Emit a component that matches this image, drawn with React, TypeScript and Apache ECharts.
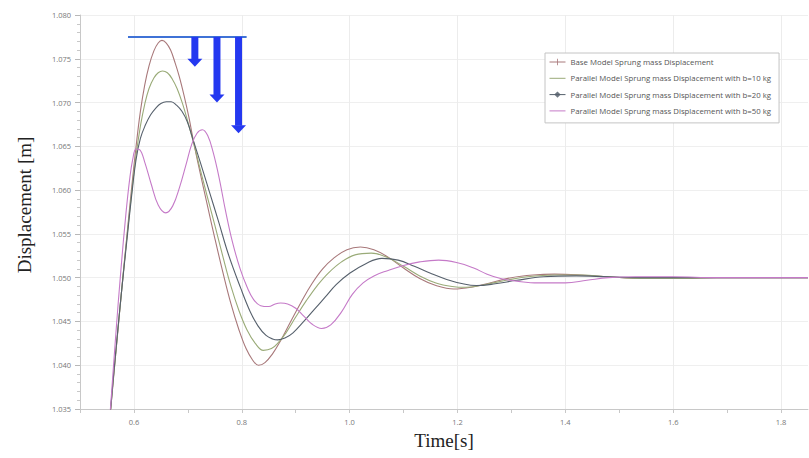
import React, { useEffect, useRef } from 'react';
import * as echarts from 'echarts';

const seriesNames = [
  'Base Model Sprung mass Displacement',
  'Parallel Model Sprung mass Displacement with b=10 kg',
  'Parallel Model Sprung mass Displacement with b=20 kg',
  'Parallel Model Sprung mass Displacement with b=50 kg',
];

const baseModel: [number, number][] = [
  [0.548, 1.028], [0.557, 1.035], [0.567, 1.0418], [0.577, 1.0484], [0.587, 1.0548],
  [0.596, 1.0604], [0.604, 1.065], [0.612, 1.069], [0.62, 1.072], [0.628, 1.0742],
  [0.637, 1.0759], [0.645, 1.0768], [0.652, 1.0771], [0.66, 1.0768], [0.668, 1.076],
  [0.676, 1.0746], [0.684, 1.073], [0.693, 1.0708], [0.702, 1.0683], [0.711, 1.0654],
  [0.722, 1.0622], [0.735, 1.0586], [0.75, 1.0545], [0.765, 1.0506], [0.78, 1.047],
  [0.795, 1.044], [0.808, 1.0419], [0.82, 1.0406], [0.831, 1.04], [0.843, 1.0403],
  [0.857, 1.0413], [0.872, 1.0428], [0.89, 1.0449], [0.91, 1.0472], [0.93, 1.0493],
  [0.95, 1.051], [0.97, 1.0522], [0.995, 1.0532], [1.02, 1.0535], [1.045, 1.0532],
  [1.07, 1.0524], [1.1, 1.0511], [1.13, 1.0499], [1.16, 1.0491], [1.193, 1.0487],
  [1.225, 1.0489], [1.26, 1.0494], [1.3, 1.05], [1.34, 1.0503], [1.38, 1.0504],
  [1.43, 1.0503], [1.48, 1.0501], [1.54, 1.0499], [1.6, 1.0499], [1.68, 1.05],
  [1.76, 1.05], [1.85, 1.05],
];

const parallelB10: [number, number][] = [
  [0.548, 1.028], [0.557, 1.035], [0.567, 1.0418], [0.577, 1.0484], [0.587, 1.0546],
  [0.596, 1.0598], [0.604, 1.064], [0.612, 1.0673], [0.62, 1.0698], [0.628, 1.0716],
  [0.637, 1.0728], [0.645, 1.0734], [0.653, 1.0736], [0.662, 1.0734], [0.671, 1.0727],
  [0.68, 1.0716], [0.69, 1.0699], [0.7, 1.0678], [0.711, 1.0653], [0.722, 1.0626],
  [0.735, 1.0595], [0.75, 1.056], [0.765, 1.0524], [0.78, 1.049], [0.795, 1.0462],
  [0.81, 1.044], [0.825, 1.0425], [0.84, 1.0417], [0.855, 1.0419], [0.868, 1.0426],
  [0.882, 1.0437], [0.9, 1.0455], [0.92, 1.0474], [0.94, 1.0491], [0.96, 1.0505],
  [0.985, 1.0518], [1.01, 1.0526], [1.04, 1.0528], [1.07, 1.0523], [1.1, 1.0513],
  [1.13, 1.0502], [1.16, 1.0494], [1.19, 1.049], [1.215, 1.0489], [1.25, 1.0492],
  [1.29, 1.0497], [1.33, 1.0501], [1.38, 1.0503], [1.43, 1.0503], [1.48, 1.0501],
  [1.54, 1.0499], [1.6, 1.0499], [1.68, 1.05], [1.76, 1.05], [1.85, 1.05],
];

const parallelB20: [number, number][] = [
  [0.548, 1.0282], [0.557, 1.0352], [0.567, 1.042], [0.577, 1.0484], [0.587, 1.0543],
  [0.596, 1.0595], [0.604, 1.0635], [0.612, 1.0659], [0.621, 1.0674], [0.631, 1.0686],
  [0.641, 1.0694], [0.65, 1.0699], [0.66, 1.0701], [0.669, 1.0701], [0.679, 1.0697],
  [0.689, 1.069], [0.699, 1.0678], [0.711, 1.0655], [0.724, 1.063], [0.74, 1.0598],
  [0.757, 1.0564], [0.775, 1.0527], [0.798, 1.0488], [0.815, 1.0462], [0.83, 1.0445],
  [0.845, 1.0434], [0.857, 1.043], [0.867, 1.0429], [0.88, 1.0431], [0.895, 1.0437],
  [0.915, 1.045], [0.935, 1.0464], [0.955, 1.0478], [0.975, 1.0492], [1.0, 1.0505],
  [1.03, 1.0516], [1.06, 1.0522], [1.09, 1.052], [1.12, 1.0513], [1.15, 1.0505],
  [1.18, 1.0498], [1.21, 1.0493], [1.235, 1.0491], [1.27, 1.0493], [1.31, 1.0497],
  [1.36, 1.0501], [1.42, 1.0502], [1.48, 1.0501], [1.55, 1.05], [1.65, 1.05],
  [1.75, 1.05], [1.85, 1.05],
];

const parallelB50: [number, number][] = [
  [0.548, 1.0285], [0.557, 1.0355], [0.566, 1.0432], [0.576, 1.051], [0.585, 1.0572],
  [0.592, 1.0612], [0.598, 1.0636], [0.604, 1.0647], [0.611, 1.0646], [0.62, 1.0632],
  [0.632, 1.0607], [0.645, 1.0583], [0.659, 1.0574], [0.672, 1.0582], [0.685, 1.0604],
  [0.697, 1.063], [0.707, 1.0652], [0.717, 1.0665], [0.727, 1.0669], [0.737, 1.0662],
  [0.747, 1.0643], [0.758, 1.0614], [0.77, 1.0576], [0.783, 1.054], [0.797, 1.051],
  [0.81, 1.0489], [0.822, 1.0475], [0.835, 1.0468], [0.85, 1.0467], [0.862, 1.047],
  [0.872, 1.0471], [0.885, 1.047], [0.9, 1.0465], [0.915, 1.0456], [0.93, 1.0447],
  [0.948, 1.0442], [0.965, 1.0446], [0.985, 1.0461], [1.005, 1.0481], [1.025, 1.0494],
  [1.045, 1.0502], [1.07, 1.0508], [1.1, 1.0514], [1.13, 1.0518], [1.165, 1.052],
  [1.2, 1.0517], [1.23, 1.0511], [1.255, 1.0504], [1.28, 1.0499], [1.31, 1.0496],
  [1.35, 1.0494], [1.4, 1.0494], [1.44, 1.0497], [1.48, 1.05], [1.53, 1.0501],
  [1.6, 1.0501], [1.68, 1.05], [1.76, 1.05], [1.85, 1.05],
];

const seriesData = [baseModel, parallelB10, parallelB20, parallelB50];
const seriesColors = ['#a8787a', '#9aab78', '#56606c', '#c57ac8'];
// legend markers: base has a thin "+" tick, b=20 a small diamond, the others plain lines
const legendMarkers = [
  'path://M0,0h0.05v0.05h-0.05zM3.5,0h1v8h-1zM7.95,7.95h0.05v0.05h-0.05z',
  'circle',
  'diamond',
  'circle',
];
const legendMarkerOpacity = [1, 0, 0.85, 0];

// x grid lines (labelled ticks)
const xGridTicks = [0.6, 0.8, 1.0, 1.2, 1.4, 1.6, 1.8];

// annotation: reference level and arrows
const refLevel = 1.0775;
const refLineRange = [0.589, 0.809];
const arrowTimes = [0.713, 0.754, 0.794];
const arrowTips = [1.0741, 1.07, 1.0665];

const option: any = {
  animation: false,
  backgroundColor: '#ffffff',
  textStyle: { fontFamily: 'Open Sans' },
  grid: { left: 80, right: 1, top: 15, bottom: 49, containLabel: false },
  legend: {
    orient: 'vertical',
    left: 545,
    top: 53,
    data: seriesNames,
    itemWidth: 16,
    itemHeight: 8,
    itemGap: 8.3,
    padding: [5, 8, 8, 4],
    borderColor: '#c4c4c4',
    borderWidth: 1,
    backgroundColor: '#ffffff',
    lineStyle: { width: 1 },
    textStyle: { fontSize: 7.8, color: '#555', fontFamily: 'Open Sans' },
  },
  xAxis: {
    type: 'value',
    min: 0.5,
    max: 1.85,
    interval: 0.1,
    name: 'Time[s]',
    nameLocation: 'middle',
    nameGap: 22,
    nameTextStyle: { fontFamily: 'Liberation Serif', fontSize: 19, color: '#222' },
    axisLine: { show: true, lineStyle: { color: '#c8c8c8' } },
    axisTick: { show: true, length: 4, lineStyle: { color: '#c8c8c8' } },
    axisLabel: {
      fontSize: 7.5,
      color: '#777',
      margin: 9,
      showMaxLabel: false,
      formatter: (v: number) => {
        const k = Math.round(v * 10);
        return k % 2 === 0 && k >= 6 && k <= 18 ? (k / 10).toFixed(1) : '';
      },
    },
    splitLine: { show: false },
  },
  yAxis: {
    type: 'value',
    min: 1.035,
    max: 1.08,
    interval: 0.005,
    name: 'Displacement [m]',
    nameLocation: 'middle',
    nameGap: 46,
    nameTextStyle: { fontFamily: 'Liberation Serif', fontSize: 19, color: '#222', padding: [0, 0, 0, 14] },
    axisLine: { show: true, lineStyle: { color: '#c8c8c8' } },
    axisTick: { show: true, length: 5, lineStyle: { color: '#b8b8b8' } },
    minorTick: { show: true, splitNumber: 5, length: 3, lineStyle: { color: '#c8c8c8' } },
    axisLabel: {
      fontSize: 7.5,
      color: '#777',
      margin: 9,
      formatter: (v: number) => v.toFixed(3),
    },
    splitLine: { show: true, lineStyle: { color: '#efefef' } },
  },
  series: [
    {
      type: 'line',
      name: 'grid',
      data: [],
      silent: true,
      z: 0,
      markLine: {
        silent: true,
        z: 0,
        symbol: 'none',
        label: { show: false },
        lineStyle: { color: '#ececec', type: 'solid', width: 1 },
        data: xGridTicks.map((x) => ({ xAxis: x })),
      },
    },
    ...seriesNames.map((name, i) => ({
      type: 'line',
      name,
      data: seriesData[i],
      smooth: 0.4,
      symbol: legendMarkers[i],
      showSymbol: false,
      clip: true,
      lineStyle: { color: seriesColors[i], width: 1.1 },
      itemStyle: { color: seriesColors[i], opacity: legendMarkerOpacity[i] },
      z: 3,
    })),
    {
      type: 'line',
      name: 'reference',
      data: refLineRange.map((x) => [x, refLevel]),
      symbol: 'none',
      silent: true,
      lineStyle: { color: '#3f72d6', width: 2 },
      z: 5,
    },
    {
      type: 'custom',
      name: 'arrows',
      silent: true,
      data: arrowTimes.map((t, i) => [t, refLevel, arrowTips[i]]),
      encode: { x: 0, y: [1, 2] },
      z: 6,
      renderItem: (params: any, api: any) => {
        const t = api.value(0);
        const p0 = api.coord([t, api.value(1)]);
        const p1 = api.coord([t, api.value(2)]);
        const hw = 3.5;
        const headW = 7.5;
        const headH = 8;
        return {
          type: 'group',
          children: [
            {
              type: 'rect',
              shape: { x: p0[0] - hw, y: p0[1], width: hw * 2, height: p1[1] - headH - p0[1] + 0.5 },
              style: { fill: '#2438f0' },
            },
            {
              type: 'polygon',
              shape: {
                points: [
                  [p1[0] - headW, p1[1] - headH],
                  [p1[0] + headW, p1[1] - headH],
                  [p1[0], p1[1]],
                ],
              },
              style: { fill: '#2438f0' },
            },
          ],
        };
      },
    },
  ],
};

export default function App() {
  const ref = useRef<HTMLDivElement>(null);
  useEffect(() => {
    const chart = echarts.init(ref.current as HTMLDivElement, undefined, { renderer: 'svg' });
    chart.setOption(option);
    return () => chart.dispose();
  }, []);
  return (
    <div
      ref={ref}
      style={{ position: 'fixed', left: 0, top: 0, width: 809, height: 458, background: '#fff' }}
    />
  );
}
